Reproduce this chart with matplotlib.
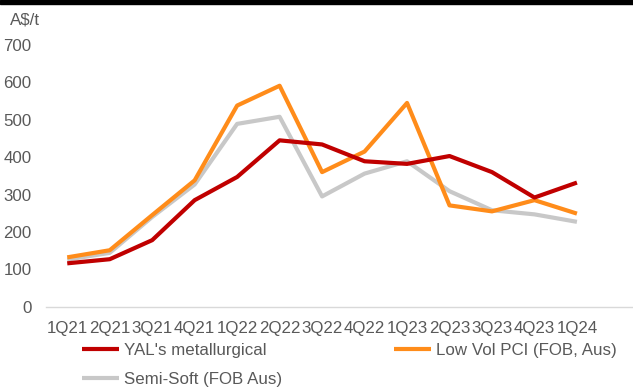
import matplotlib
matplotlib.use("Agg")
import matplotlib.pyplot as plt

categories = ["1Q21", "2Q21", "3Q21", "4Q21", "1Q22", "2Q22", "3Q22",
              "4Q22", "1Q23", "2Q23", "3Q23", "4Q23", "1Q24"]
yal_met = [116, 127, 178, 285, 347, 445, 434, 389, 382, 403, 360, 292, 332]
low_vol_pci = [132, 151, 245, 338, 538, 591, 360, 415, 545, 271, 255, 285, 249]
semi_soft = [126, 144, 240, 327, 489, 508, 295, 356, 389, 309, 258, 247, 227]
y_ticks = [0, 100, 200, 300, 400, 500, 600, 700]

plt.rcParams['font.family'] = ['Liberation Sans', 'DejaVu Sans']
TXT = "#595959"

W, H = 633, 387
fig = plt.figure(figsize=(W / 100, H / 100), dpi=100)
ax_left, ax_right = 46 / W, 633 / W
ax_bottom, ax_top = 1 - 306.7 / H, 1 - 45 / H
ax = fig.add_axes([ax_left, ax_bottom, ax_right - ax_left, ax_top - ax_bottom])

x = list(range(len(categories)))
lw = 3.0
l1, = ax.plot(x, yal_met, color="#C00000", lw=lw, solid_capstyle="butt", label="YAL's metallurgical")
l2, = ax.plot(x, low_vol_pci, color="#FF8C1A", lw=lw, solid_capstyle="butt", label="Low Vol PCI (FOB, Aus)")
l3, = ax.plot(x, semi_soft, color="#C8C8C8", lw=lw, solid_capstyle="butt", label="Semi-Soft (FOB Aus)")
l3.set_zorder(1); l2.set_zorder(2); l1.set_zorder(3)

ax.set_xlim(-0.5, 13.32)
ax.set_ylim(0, 700)
ax.set_xticks(x)
ax.set_xticklabels(categories)
ax.set_yticks(y_ticks)
ax.tick_params(axis="both", length=0, labelsize=12.2, colors=TXT)
ax.tick_params(axis="y", pad=10.5)
ax.tick_params(axis="x", pad=10.5)
for s in ["top", "right", "left"]:
    ax.spines[s].set_visible(False)
ax.spines["bottom"].set_color("#D9D9D9")
ax.spines["bottom"].set_linewidth(1.0)

fig.text(10 / W, 1 - 20 / H, "A$/t", fontsize=12.2, color=TXT, ha="left", va="center")

fig.patches.append(plt.Rectangle((0, 1 - 4 / H), 1, 4 / H, transform=fig.transFigure,
                                 color="black", zorder=10))

leg = fig.legend(handles=[l1, l3, l2], ncol=2, loc="upper left",
                 bbox_to_anchor=(81.7 / W, 1 - 343 / H), frameon=False,
                 fontsize=12.2, handlelength=2.2, handletextpad=0.3,
                 columnspacing=6.6, labelspacing=0.82, borderpad=0, borderaxespad=0)
for t in leg.get_texts():
    t.set_color(TXT)

fig.savefig("out.png", dpi=100)
